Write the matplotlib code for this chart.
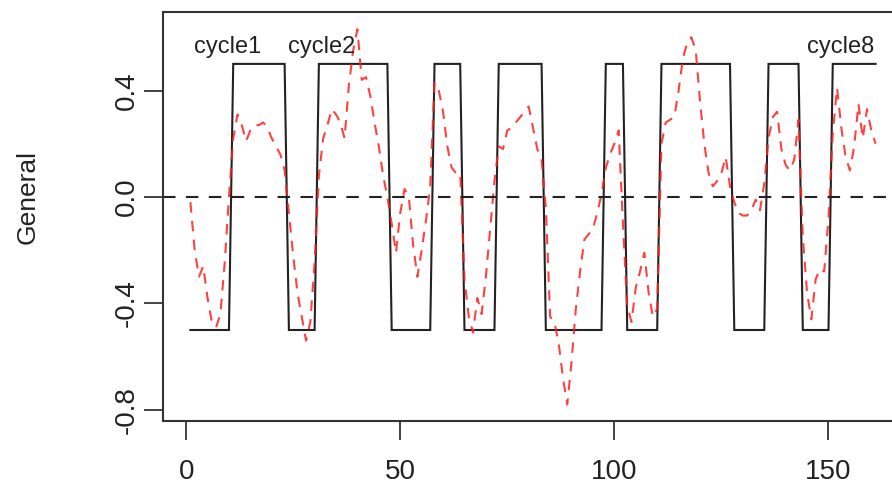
import matplotlib
matplotlib.use("Agg")
import matplotlib.pyplot as plt
import numpy as np

# ---- data ----
x_index = list(range(1, 162))

observed = [
    -0.02, -0.20, -0.30, -0.26, -0.38, -0.47, -0.49, -0.44, -0.25, 0.00,   # 1-10
    0.22, 0.31, 0.27, 0.21, 0.25, 0.27, 0.27, 0.28, 0.26, 0.22,            # 11-20
    0.19, 0.16, 0.10, -0.06, -0.22, -0.36, -0.45, -0.54, -0.47, -0.25,     # 21-30
    0.08, 0.22, 0.27, 0.33, 0.31, 0.28, 0.22, 0.42, 0.55, 0.63,            # 31-40
    0.44, 0.45, 0.38, 0.28, 0.19, 0.08, 0.00, -0.10, -0.21, -0.06,         # 41-50
    0.03, 0.00, -0.18, -0.30, -0.20, -0.09, 0.04, 0.43, 0.40, 0.32,        # 51-60
    0.19, 0.11, 0.09, 0.09, -0.31, -0.45, -0.51, -0.38, -0.44, -0.30,      # 61-70
    -0.12, 0.06, 0.19, 0.18, 0.25, 0.26, 0.28, 0.30, 0.32, 0.34,           # 71-80
    0.26, 0.18, 0.14, -0.04, -0.45, -0.47, -0.55, -0.68, -0.78, -0.62,     # 81-90
    -0.42, -0.28, -0.16, -0.14, -0.12, -0.06, 0.01, 0.11, 0.16, 0.20,      # 91-100
    0.25, -0.10, -0.41, -0.47, -0.34, -0.28, -0.21, -0.36, -0.45, -0.42,   # 101-110
    0.20, 0.28, 0.29, 0.30, 0.40, 0.52, 0.58, 0.60, 0.55, 0.36,            # 111-120
    0.20, 0.09, 0.04, 0.06, 0.09, 0.15, 0.04, -0.02, -0.06, -0.07,         # 121-130
    -0.07, -0.05, -0.01, -0.05, 0.05, 0.22, 0.30, 0.32, 0.18, 0.12,        # 131-140
    0.10, 0.14, 0.29, -0.15, -0.36, -0.46, -0.31, -0.27, -0.28, -0.08,     # 141-150
    0.24, 0.41, 0.26, 0.15, 0.10, 0.19, 0.35, 0.22, 0.33, 0.25,            # 151-160
    0.20,                                                                  # 161
]

phase = [
    -0.5, -0.5, -0.5, -0.5, -0.5, -0.5, -0.5, -0.5, -0.5, -0.5,            # 1-10
    0.5, 0.5, 0.5, 0.5, 0.5, 0.5, 0.5, 0.5, 0.5, 0.5,                      # 11-20
    0.5, 0.5, 0.5, -0.5, -0.5, -0.5, -0.5, -0.5, -0.5, -0.5,               # 21-30
    0.5, 0.5, 0.5, 0.5, 0.5, 0.5, 0.5, 0.5, 0.5, 0.5,                      # 31-40
    0.5, 0.5, 0.5, 0.5, 0.5, 0.5, 0.5, -0.5, -0.5, -0.5,                   # 41-50
    -0.5, -0.5, -0.5, -0.5, -0.5, -0.5, -0.5, 0.5, 0.5, 0.5,               # 51-60
    0.5, 0.5, 0.5, 0.5, -0.5, -0.5, -0.5, -0.5, -0.5, -0.5,                # 61-70
    -0.5, -0.5, 0.5, 0.5, 0.5, 0.5, 0.5, 0.5, 0.5, 0.5,                    # 71-80
    0.5, 0.5, 0.5, -0.5, -0.5, -0.5, -0.5, -0.5, -0.5, -0.5,               # 81-90
    -0.5, -0.5, -0.5, -0.5, -0.5, -0.5, -0.5, 0.5, 0.5, 0.5,               # 91-100
    0.5, 0.5, -0.5, -0.5, -0.5, -0.5, -0.5, -0.5, -0.5, -0.5,              # 101-110
    0.5, 0.5, 0.5, 0.5, 0.5, 0.5, 0.5, 0.5, 0.5, 0.5,                      # 111-120
    0.5, 0.5, 0.5, 0.5, 0.5, 0.5, 0.5, -0.5, -0.5, -0.5,                   # 121-130
    -0.5, -0.5, -0.5, -0.5, -0.5, 0.5, 0.5, 0.5, 0.5, 0.5,                 # 131-140
    0.5, 0.5, 0.5, -0.5, -0.5, -0.5, -0.5, -0.5, -0.5, -0.5,               # 141-150
    0.5, 0.5, 0.5, 0.5, 0.5, 0.5, 0.5, 0.5, 0.5, 0.5,                      # 151-160
    0.5,                                                                   # 161
]

cycle_labels = ["cycle1", "cycle2", "cycle8"]
cycle_label_x = [9.6, 31.7, 152.8]
cycle_label_y = [0.565, 0.565, 0.565]

x_ticks = [0, 50, 100, 150]
y_ticks = [-0.8, -0.4, 0.0, 0.4]
y_tick_labels = ["-0.8", "-0.4", "0.0", "0.4"]
y_label = "General"

# ---- figure ----
plt.rcParams['font.family'] = ['Liberation Sans', 'DejaVu Sans']
W, H = 892, 494
fig = plt.figure(figsize=(W / 100, H / 100), dpi=100)
left_px, right_px, top_px, bottom_px = 163, 903, 12, 421
ax = fig.add_axes([left_px / W, (H - bottom_px) / H,
                   (right_px - left_px) / W, (bottom_px - top_px) / H])

ax.plot(x_index, phase, color='#222222', lw=1.5, solid_joinstyle='miter')
ax.plot(x_index, observed, color='#ff2020', lw=1.5, alpha=0.85,
        linestyle=(0, (5, 4)))
ax.axhline(0, color='#222222', lw=1.5, linestyle=(0, (6, 5)))

for lab, lx, ly in zip(cycle_labels, cycle_label_x, cycle_label_y):
    ax.text(lx, ly, lab, ha='center', va='center', fontsize=17, color='#222222')

ax.set_xlim(-5.4, 167.4)
ax.set_ylim(-0.842, 0.695)
ax.set_xticks(x_ticks)
ax.set_xticklabels([str(t) for t in x_ticks])
ax.set_yticks(y_ticks)
ax.set_yticklabels(y_tick_labels, rotation=90, va='center')
ax.tick_params(axis='both', direction='out', length=14, width=1.2,
               labelsize=20, colors='#222222')
ax.tick_params(axis='x', pad=13)
ax.tick_params(axis='y', pad=3)
for s in ax.spines.values():
    s.set_linewidth(1.5)
    s.set_color('#333333')

# y-axis title, centred at the 0.0 level as in the reference
fig.text(28 / W, (H - 197) / H, y_label, rotation=90, ha='center',
         va='center', fontsize=19, color='#222222')

fig.savefig("out.png", dpi=100)
